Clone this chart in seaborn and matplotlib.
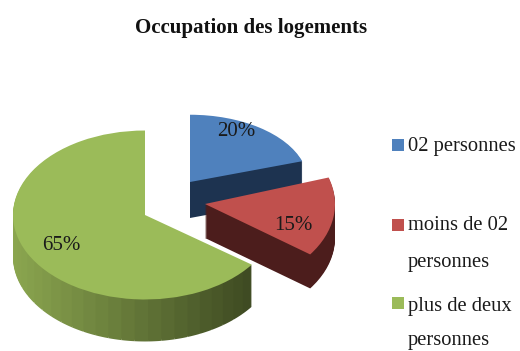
import matplotlib
matplotlib.use("Agg")
import matplotlib.pyplot as plt
from matplotlib.colors import to_rgb
from matplotlib.transforms import Affine2D
import numpy as np
import seaborn as sns

sns.set_theme(style="white")
plt.rcParams['font.family'] = ['Liberation Serif', 'DejaVu Serif']

title = "Occupation des logements"
categories = ["02 personnes", "moins de 02\npersonnes", "plus de deux\npersonnes"]
values = [20, 15, 65]
labels = ["20%", "15%", "65%"]

top = ["#4f81bd", "#c0504d", "#9bbb59"]
side_left = ["#1d3350", "#4c1d1c", "#8ba64f"]
side_right = ["#1d3350", "#4c1d1c", "#3e4a22"]
tips = [(190, 182), (205, 204), (145, 215)]
radii = [118, 130, 132]
squash = [0.57, 0.66, 0.64]
depths = [36, 34, 42]

fig = plt.figure(figsize=(5.2, 3.51), dpi=100)
ax = fig.add_axes([0, 0, 1, 1])
total = sum(values)


def slice_at(i, dy, cols):
    """One slice of the pie; cols holds one colour per angular segment."""
    theta = 90 - 360 * sum(values[:i]) / total
    n = len(cols)
    parts = [values[i] / n] * n + [total - values[i]]
    wedges, _ = ax.pie(parts, startangle=theta, counterclock=False, radius=radii[i],
                       colors=list(cols) + ["none"],
                       wedgeprops={"linewidth": 0.3 if n > 1 else 0, "edgecolor": "none"})
    x, y = tips[i]
    tr = Affine2D().scale(1, -squash[i]).translate(x, y + dy) + ax.transData
    for w in wedges:
        w.set_transform(tr)
    wedges[-1].set_visible(False)


def side_colours(i):
    """Side shade of slice i, running from left to right along its rim."""
    n = 40 if side_left[i] != side_right[i] else 1
    a, b = np.array(to_rgb(side_left[i])), np.array(to_rgb(side_right[i]))
    start = 360 * sum(values[:i]) / total
    out = []
    for k in range(n):
        ang = np.deg2rad(start + (k + 0.5) * 360 * values[i] / total / n)
        f = 1 - (np.sin(ang) + 1) / 2
        t = np.clip(1 - f, 0, 1)
        t = np.clip((np.sin(ang) + 1) / 1.8, 0, 1)
        out.append(tuple(a + (b - a) * t))
    return out


for i in [0, 1, 2]:
    cols = side_colours(i)
    for dy in range(depths[i], 0, -1):
        slice_at(i, dy, cols)
    slice_at(i, 0, [top[i]])

ax.set_xlim(0, 520)
ax.set_ylim(351, 0)
ax.set_aspect("auto")
ax.axis("off")

ink = "#1a1a1a"
ax.text(251, 28, title, ha="center", va="center", fontsize=15, fontweight="bold", color="#111111")
label_pos = [(236, 132), (293, 225), (61, 246)]
for (x, y), t in zip(label_pos, labels):
    ax.text(x, y, t, ha="center", va="center", fontsize=15, color=ink)

marker_y = [145, 225, 303]
line_y = [[146], [226, 262], [307, 341]]
for my, ys, c, t in zip(marker_y, line_y, top, categories):
    ax.scatter([398], [my], marker="s", s=72, color=c, linewidths=0)
    for y, line in zip(ys, t.split("\n")):
        ax.text(408, y, line, ha="left", va="center", fontsize=14.8, color=ink)

fig.savefig("out.png", dpi=100, facecolor="white")
